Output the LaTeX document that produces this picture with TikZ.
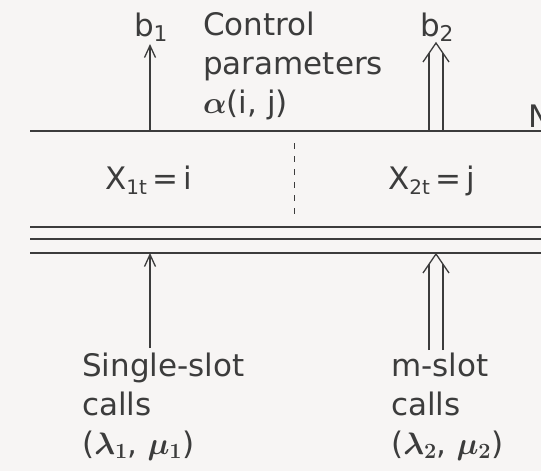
\RequirePackage{fix-cm}
\documentclass[tikz,border=0pt]{standalone}
\usepackage{fontspec}
\setmainfont{DejaVu Sans}
\usetikzlibrary{arrows.meta}
\definecolor{ink}{HTML}{3C3C3C}
\definecolor{paper}{HTML}{F7F5F4}
\newcommand{\grk}[1]{{\boldmath$#1$}}
\begin{document}
\begin{tikzpicture}[x=1pt,y=-1pt,
  lbl/.style={font=\fontsize{31}{39}\selectfont, text=ink, inner sep=0pt, anchor=base west},
  ln/.style={draw=ink, line width=1.3pt},
  tipA/.style={-{Straight Barb[length=12pt,width=11pt]}},
  vhead/.style={draw=ink, line width=1.3pt, line join=miter}]
\clip (0,0) rectangle (541,471);
\fill[paper] (0,0) rectangle (541,471);
% horizontal lines
\coordinate (tl) at (30,131);  \coordinate (tr) at (541,131);
\coordinate (l1a) at (30,227); \coordinate (l1b) at (541,227);
\coordinate (l2a) at (30,239); \coordinate (l2b) at (541,239);
\coordinate (l3a) at (30,253); \coordinate (l3b) at (541,253);
\draw[ln] (tl) -- (tr);
\draw[ln] (l1a) -- (l1b);
\draw[ln] (l2a) -- (l2b);
\draw[ln] (l3a) -- (l3b);
% dashed divider
\coordinate (da) at (294,143); \coordinate (db) at (294,219);
\draw[draw=ink, line width=1pt, dash pattern=on 6pt off 7pt] (da) -- (db);
% b1 arrow
\coordinate (b1s) at (150,131); \coordinate (b1e) at (150,44);
\draw[ln,tipA] (b1s) -- (b1e);
% b2 double arrow
\coordinate (b2la) at (429,131); \coordinate (b2lb) at (429,53);
\coordinate (b2ra) at (443,131); \coordinate (b2rb) at (443,53);
\coordinate (b2t) at (436,43);
\draw[ln] (b2la) -- (b2lb);
\draw[ln] (b2ra) -- (b2rb);
\draw[vhead] (423,62) -- (b2t) -- (449,62);
% lower single arrow
\coordinate (s1s) at (150,348); \coordinate (s1e) at (150,253);
\draw[ln,tipA] (s1s) -- (s1e);
% lower double arrow
\coordinate (m2la) at (429,350); \coordinate (m2lb) at (429,264);
\coordinate (m2ra) at (443,350); \coordinate (m2rb) at (443,264);
\coordinate (m2t) at (436,254);
\draw[ln] (m2la) -- (m2lb);
\draw[ln] (m2ra) -- (m2rb);
\draw[vhead] (423,273) -- (m2t) -- (449,273);
% labels
\node[lbl, anchor=base] (b1) at (151,36) {b\textsubscript{1}};
\node[lbl, anchor=base] (b2) at (437,36) {b\textsubscript{2}};
\node[lbl, align=left] (ctrl) at (203,113) {Control\\parameters\\\grk{\alpha}(i, j)};
\node[lbl] (N) at (528,127) {N};
\node[lbl] (x1) at (105,189) {X{\fontsize{20}{20}\selectfont\raisebox{-5pt}{1t}}\,=\,i};
\node[lbl] (x2) at (388,189) {X{\fontsize{20}{20}\selectfont\raisebox{-5pt}{2t}}\,=\,j};
\node[lbl, align=left] (single) at (82,454) {Single-slot\\calls\\(\grk{\lambda_1}, \grk{\mu_1})};
\node[lbl, align=left] (mslot) at (391,454) {m-slot\\calls\\(\grk{\lambda_2}, \grk{\mu_2})};
\end{tikzpicture}
\end{document}
